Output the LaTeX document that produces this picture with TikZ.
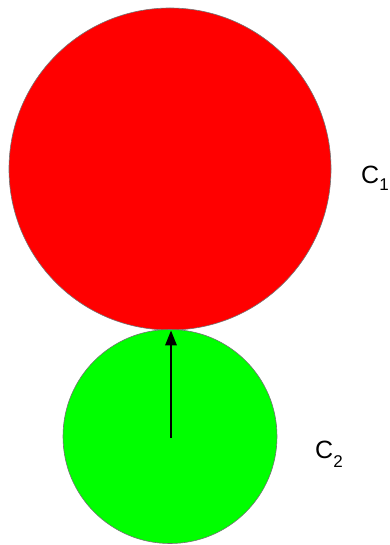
\documentclass[tikz,border=0pt]{standalone}
\usepackage{fontspec}
\setmainfont{Liberation Sans}
\usetikzlibrary{arrows.meta}
\begin{document}
\begin{tikzpicture}[x=1pt,y=1pt,
  disc/.style={circle,draw=black!55,line width=0.6pt,inner sep=0pt},
  lbl/.style={anchor=base west,inner sep=0pt,font=\fontsize{25}{29}\selectfont},
  vec/.style={-{Triangle[length=15pt,width=11pt]},line width=2.8pt}]
\useasboundingbox (0,0) rectangle (389,-545);
\node[disc,fill=red,minimum size=322pt] (c1) at (170,-169) {};
\node[disc,fill=green,minimum size=214pt] (c2) at (170,-436.5) {};
\coordinate (tail) at (171,-438);
\draw[vec] (tail) -- (c1.south -| tail);
\node[lbl] (l1) at (361,-184) {C\raisebox{-7pt}{\fontsize{17}{20}\selectfont 1}};
\node[lbl] (l2) at (315,-458) {C\raisebox{-9pt}{\fontsize{17}{20}\selectfont 2}};
\end{tikzpicture}
\end{document}
